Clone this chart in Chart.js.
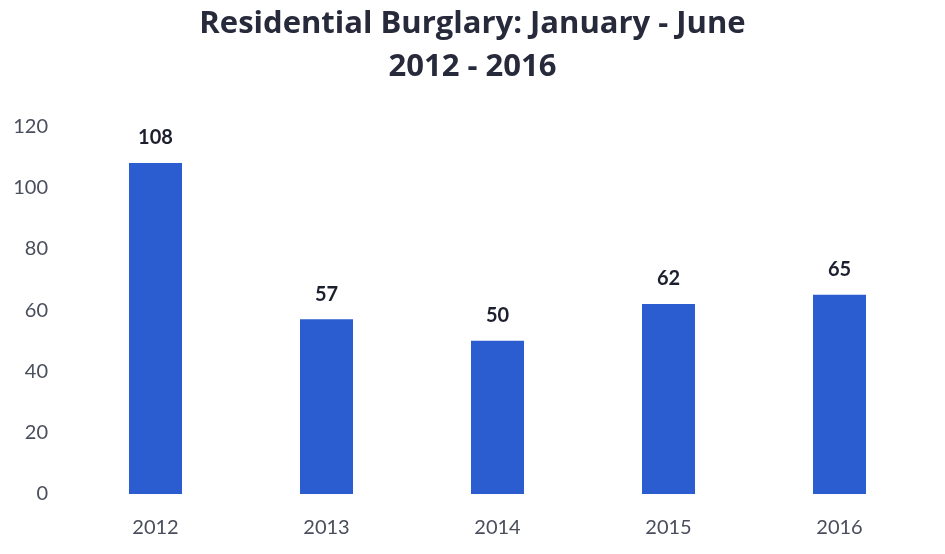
<!DOCTYPE html>
<html>
<head>
<meta charset="utf-8">
<script src="https://cdn.jsdelivr.net/npm/chart.js@4/dist/chart.umd.min.js"></script>
<style>
html,body{margin:0;padding:0;background:#fff;}
#wrap{width:945px;height:554px;position:relative;}
</style>
</head>
<body>
<div id="wrap"><canvas id="c" width="945" height="554"></canvas></div>
<script>
const categories = ["2012", "2013", "2014", "2015", "2016"];
const burglaries = [108, 57, 50, 62, 65];
const titleLines = ["Residential Burglary: January - June", "2012 - 2016"];
const yTicks = [0, 20, 40, 60, 80, 100, 120];

const valueLabels = {
  id: 'valueLabels',
  afterDatasetsDraw(chart) {
    const ctx = chart.ctx;
    const meta = chart.getDatasetMeta(0);
    ctx.save();
    ctx.font = 'bold 20px Lato, "Open Sans", sans-serif';
    ctx.fillStyle = '#1c1f2e';
    ctx.textAlign = 'center';
    ctx.textBaseline = 'middle';
    meta.data.forEach((bar, i) => {
      ctx.fillText(String(chart.data.datasets[0].data[i]), bar.x, bar.y - 25);
    });
    ctx.restore();
  }
};

new Chart(document.getElementById('c'), {
  type: 'bar',
  data: {
    labels: categories,
    datasets: [{
      data: burglaries,
      yAxisID: 'y',
      backgroundColor: '#2b5cd0',
      borderWidth: 0,
      barPercentage: 0.31,
      categoryPercentage: 1.0
    }]
  },
  options: {
    responsive: false,
    animation: false,
    devicePixelRatio: 1,
    layout: { padding: 0 },
    plugins: {
      legend: { display: false },
      tooltip: { enabled: false },
      title: {
        display: true,
        text: titleLines,
        color: '#272a3a',
        font: { family: '"Open Sans", Lato, sans-serif', size: 31, weight: 'bold', lineHeight: 1.39 },
        padding: { top: 3, bottom: 37 }
      }
    },
    scales: {
      x: {
        grid: { display: false, drawTicks: false },
        border: { display: false },
        ticks: { color: '#4a4d5c', font: { family: 'Lato, "Open Sans", sans-serif', size: 20 }, padding: 22 },
        afterFit(scale) { scale.height = 60; }
      },
      y: {
        min: 0,
        max: 120,
        afterBuildTicks(scale) { scale.ticks = yTicks.map(v => ({ value: v })); },
        grid: { display: false, drawTicks: false },
        border: { display: false },
        ticks: { color: '#4a4d5c', font: { family: 'Lato, "Open Sans", sans-serif', size: 20 }, padding: 22 },
        afterFit(scale) { scale.width = 70; }
      },
      yRight: {
        position: 'right',
        min: 0,
        max: 120,
        grid: { display: false, drawTicks: false },
        border: { display: false },
        ticks: { display: false },
        afterFit(scale) { scale.width = 20; }
      }
    }
  },
  plugins: [valueLabels]
});
</script>
</body>
</html>
